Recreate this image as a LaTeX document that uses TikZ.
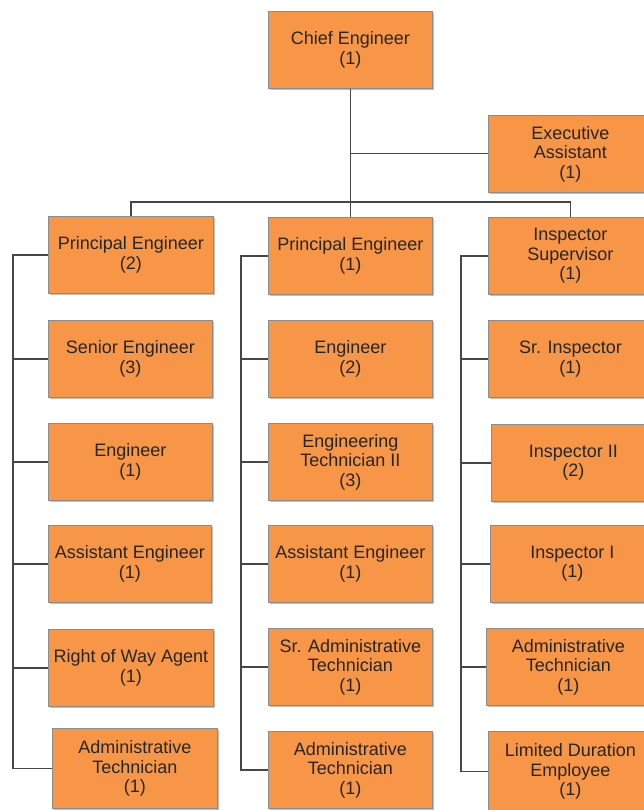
\documentclass[tikz,border=0pt]{standalone}
\usepackage{fontspec}
\setmainfont{Liberation Sans}
\usetikzlibrary{shadows}
\definecolor{boxfill}{RGB}{247,150,70}
\definecolor{boxline}{RGB}{140,140,140}
\definecolor{txt}{RGB}{38,38,38}
\definecolor{conn}{RGB}{70,70,70}
\tikzset{
  box/.style={anchor=north west, draw=boxline, line width=0.8pt, fill=boxfill,
    minimum width=164pt, minimum height=77pt, inner sep=0pt, align=center,
    text=txt, font=\fontsize{18}{19.5}\selectfont,
    execute at begin node={\rule{0pt}{20pt}},
    drop shadow={shadow xshift=1.2pt, shadow yshift=-1.5pt, fill=black, opacity=0.25}},
  link/.style={draw=conn, line width=1.2pt}
}
\begin{document}
\begin{tikzpicture}[x=1pt,y=-1pt]
\path[use as bounding box] (0,0) rectangle (644,810);
\clip (0,0) rectangle (644,810);
\fill[white] (0,0) rectangle (644,810);
% top
\node[box] (ce) at (268,11) {Chief Engineer\\(1)};
\node[box] (ea) at (488,115) {Executive\\Assistant\\(1)};
% left column
\node[box, minimum width=165pt] (pl) at (48,216) {Principal Engineer\\(2)};
\node[box] (se) at (48,320) {Senior Engineer\\(3)};
\node[box] (le) at (48,423) {Engineer\\(1)};
\node[box, minimum width=163pt] (lae) at (48,525) {Assistant Engineer\\(1)};
\node[box, minimum width=165pt] (rw) at (48,629) {Right of Way Agent\\(1)};
\node[box, minimum width=165pt, minimum height=80pt] (lat) at (52,728) {Administrative\\Technician\\(1)};
% middle column
\node[box] (pm) at (268,217) {Principal Engineer\\(1)};
\node[box] (me) at (268,320) {Engineer\\(2)};
\node[box] (mt) at (268,423) {Engineering\\Technician II\\(3)};
\node[box] (ma) at (268,525) {Assistant Engineer\\(1)};
\node[box] (ms) at (268,628) {Sr. Administrative\\Technician\\(1)};
\node[box] (mat) at (268,731) {Administrative\\Technician\\(1)};
% right column
\node[box] (rs) at (488,217) {Inspector\\Supervisor\\(1)};
\node[box] (ri) at (488,320) {Sr. Inspector\\(1)};
\node[box] (r2) at (491,424) {Inspector II\\(2)};
\node[box] (r1) at (490,525) {Inspector I\\(1)};
\node[box] (rat) at (486,628) {Administrative\\Technician\\(1)};
\node[box, minimum height=80pt] (rl) at (488,731) {Limited Duration\\Employee\\(1)};
% coordinates for buses
\coordinate (bus) at (0,202);
\coordinate (lx) at (13,0);
\coordinate (mx) at (241,0);
\coordinate (rx) at (461,0);
% top connectors
\draw[link] (ce.south) -- (pm.north);
\draw[link] (ce.south |- ea.west) -- (ea.west);
\draw[link] (pl.north) -- (pl.north |- bus) -- (rs.north |- bus) -- (rs.north);
% left column
\draw[link] (pl.west) -- (pl.west -| lx) -- (lat.west -| lx) -- (lat.west);
\foreach \n in {se,le,lae,rw} \draw[link] (\n.west -| lx) -- (\n.west);
% middle column
\draw[link] (pm.west) -- (pm.west -| mx) -- (mat.west -| mx) -- (mat.west);
\foreach \n in {me,mt,ma,ms} \draw[link] (\n.west -| mx) -- (\n.west);
% right column
\draw[link] (rs.west) -- (rs.west -| rx) -- (rl.west -| rx) -- (rl.west);
\foreach \n in {ri,r2,r1,rat} \draw[link] (\n.west -| rx) -- (\n.west);
\end{tikzpicture}
\end{document}
